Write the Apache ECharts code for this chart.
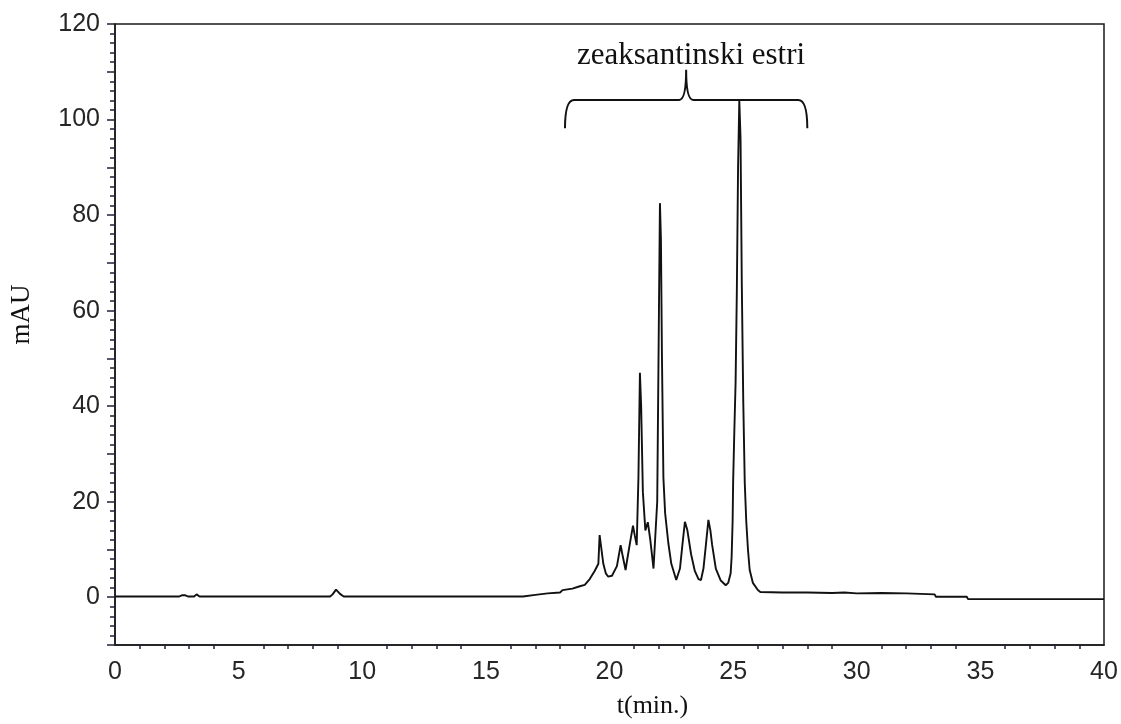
<!DOCTYPE html>
<html>
<head>
<meta charset="utf-8">
<script src="https://cdn.jsdelivr.net/npm/echarts@6/dist/echarts.min.js"></script>
<style>html,body{margin:0;padding:0;background:#fff;}#c{width:1121px;height:724px;}</style>
</head>
<body>
<div id="c"></div>
<script>
// retention time (min)
const timeMin = [
  0, 0.85, 0.93, 1.0, 1.35, 1.42, 1.5, 2.6, 2.7, 2.85, 2.95, 3.2, 3.3, 3.42, 3.6,
  8.7, 8.8, 8.94, 9.1, 9.25, 9.5, 16.5, 17.0, 17.5, 18.0, 18.1, 18.5, 18.8, 19.0,
  19.2, 19.4, 19.55, 19.6, 19.65, 19.75, 19.85, 19.95, 20.1, 20.3, 20.45, 20.52,
  20.65, 20.72, 20.85, 20.95, 21.02, 21.1, 21.17, 21.23, 21.28, 21.35, 21.45,
  21.55, 21.65, 21.78, 21.85, 21.93, 22.0, 22.04, 22.08, 22.12, 22.18, 22.25,
  22.38, 22.5, 22.7, 22.85, 22.95, 23.05, 23.15, 23.3, 23.45, 23.6, 23.7, 23.8,
  23.9, 24.0, 24.08, 24.15, 24.3, 24.5, 24.7, 24.8, 24.9, 24.94, 24.98, 25.0,
  25.05, 25.1, 25.15, 25.2, 25.25, 25.3, 25.35, 25.41, 25.47, 25.53, 25.6, 25.67,
  25.8, 26.0, 26.1, 27.0, 28.0, 29.0, 29.5, 30.0, 31.0, 32.0, 33.15, 33.2, 34.45,
  34.5, 40
];
// absorbance (mAU)
const absorbance = [
  0.15, 0.15, 0.4, 0.15, 0.15, 0.35, 0.15, 0.15, 0.4, 0.4, 0.15, 0.15, 0.6, 0.15, 0.15,
  0.15, 0.6, 1.6, 0.7, 0.15, 0.15, 0.15, 0.5, 0.8, 1.0, 1.5, 1.8, 2.3, 2.6,
  3.8, 5.5, 7, 13, 11, 7, 5, 4.3, 4.5, 6.5, 10.9, 9,
  5.7, 8, 12, 15, 13, 10.9, 25, 47, 40, 22, 14,
  15.7, 12, 6, 5.7, 20, 60, 82.5, 75, 51, 25, 17.6,
  11.3, 7, 3.6, 6, 11, 15.8, 14, 9, 5.5, 3.8, 3.6, 6,
  11, 16.2, 14, 11, 6, 3.5, 2.5, 3.0, 5, 8.5, 16, 24,
  35, 45, 64, 90, 104, 96, 66, 41, 24, 16, 10, 5.7,
  3, 1.5, 1.1, 1.0, 1.0, 0.9, 1.0, 0.8, 0.9, 0.8, 0.6, 0.1, 0.1,
  -0.4, -0.4
];
const yTickLabels = [0, 20, 40, 60, 80, 100, 120];
const xTickLabels = [0, 5, 10, 15, 20, 25, 30, 35, 40];
// annotation: brace over the ester peaks
const braceLabel = 'zeaksantinski estri';
const braceRange = [18.2, 28.0];
const braceMid = 23.1;

const seriesData = timeMin.map((t, i) => [t, absorbance[i]]);
const chart = echarts.init(document.getElementById('c'), null, {renderer: 'canvas'});
const tickColor = '#20203a';
chart.setOption({
  animation: false,
  backgroundColor: '#fff',
  grid: {left: 115, right: 17, top: 24, bottom: 79, show: true, borderColor: '#1a1a1a', borderWidth: 1.5},
  xAxis: {
    type: 'value', min: 0, max: 40, interval: 5,
    name: 't(min.)', nameLocation: 'middle', nameGap: 48,
    nameTextStyle: {fontFamily: 'Liberation Serif', fontSize: 26, color: '#111', padding: [0, 0, 0, 86]},
    axisLine: {show: true, onZero: false, lineStyle: {color: '#1a1a1a', width: 1.5}},
    axisTick: {show: false},
    minorTick: {show: true, splitNumber: 5, length: 4, lineStyle: {color: tickColor, width: 1.5}},
    splitLine: {show: false},
    axisLabel: {
      fontFamily: 'Liberation Sans', fontSize: 25, color: '#262626', margin: 15,
      formatter: v => xTickLabels.includes(v) ? String(v) : ''
    }
  },
  yAxis: {
    type: 'value', min: -10, max: 120, interval: 10,
    name: 'mAU', nameLocation: 'middle', nameRotate: 90, nameGap: 80,
    nameTextStyle: {fontFamily: 'Liberation Serif', fontSize: 27, color: '#111', padding: [0, 0, 0, 40]},
    axisLine: {show: true, onZero: false, lineStyle: {color: '#1a1a1a', width: 1.5}},
    axisTick: {show: true, length: 8, lineStyle: {color: tickColor, width: 1.5}},
    minorTick: {show: true, splitNumber: 5, length: 5, lineStyle: {color: tickColor, width: 1.5}},
    splitLine: {show: false},
    axisLabel: {
      fontFamily: 'Liberation Sans', fontSize: 25, color: '#262626', margin: 15,
      formatter: v => yTickLabels.includes(v) ? String(v) : ''
    }
  },
  series: [
    {
      type: 'line', data: seriesData, showSymbol: false, symbol: 'none',
      lineStyle: {color: '#111', width: 1.9}, z: 3
    },
    {
      type: 'custom', data: [[braceRange[0], braceRange[1], braceMid]], z: 4, silent: true,
      renderItem: function (params, api) {
        const x1 = api.coord([api.value(0), 0])[0];
        const x2 = api.coord([api.value(1), 0])[0];
        const xm = api.coord([api.value(2), 0])[0];
        const yT = api.coord([0, 104.1])[1];
        const yE = api.coord([0, 98.2])[1];
        const yTip = api.coord([0, 110.4])[1];
        const p = 'M' + x1 + ',' + yE +
          ' Q' + x1 + ',' + yT + ' ' + (x1 + 9) + ',' + yT +
          ' L' + (xm - 7) + ',' + yT +
          ' Q' + xm + ',' + yT + ' ' + xm + ',' + yTip +
          ' Q' + xm + ',' + yT + ' ' + (xm + 7) + ',' + yT +
          ' L' + (x2 - 9) + ',' + yT +
          ' Q' + x2 + ',' + yT + ' ' + x2 + ',' + yE;
        const tp = api.coord([23.3, 110.0]);
        return {
          type: 'group',
          children: [
            {type: 'path', shape: {pathData: p}, style: {fill: 'none', stroke: '#111', lineWidth: 2}},
            {type: 'text', style: {text: braceLabel, x: tp[0], y: tp[1], align: 'center', verticalAlign: 'bottom',
              font: '31px "Liberation Serif"', fill: '#111'}}
          ]
        };
      }
    }
  ]
});
</script>
</body>
</html>
